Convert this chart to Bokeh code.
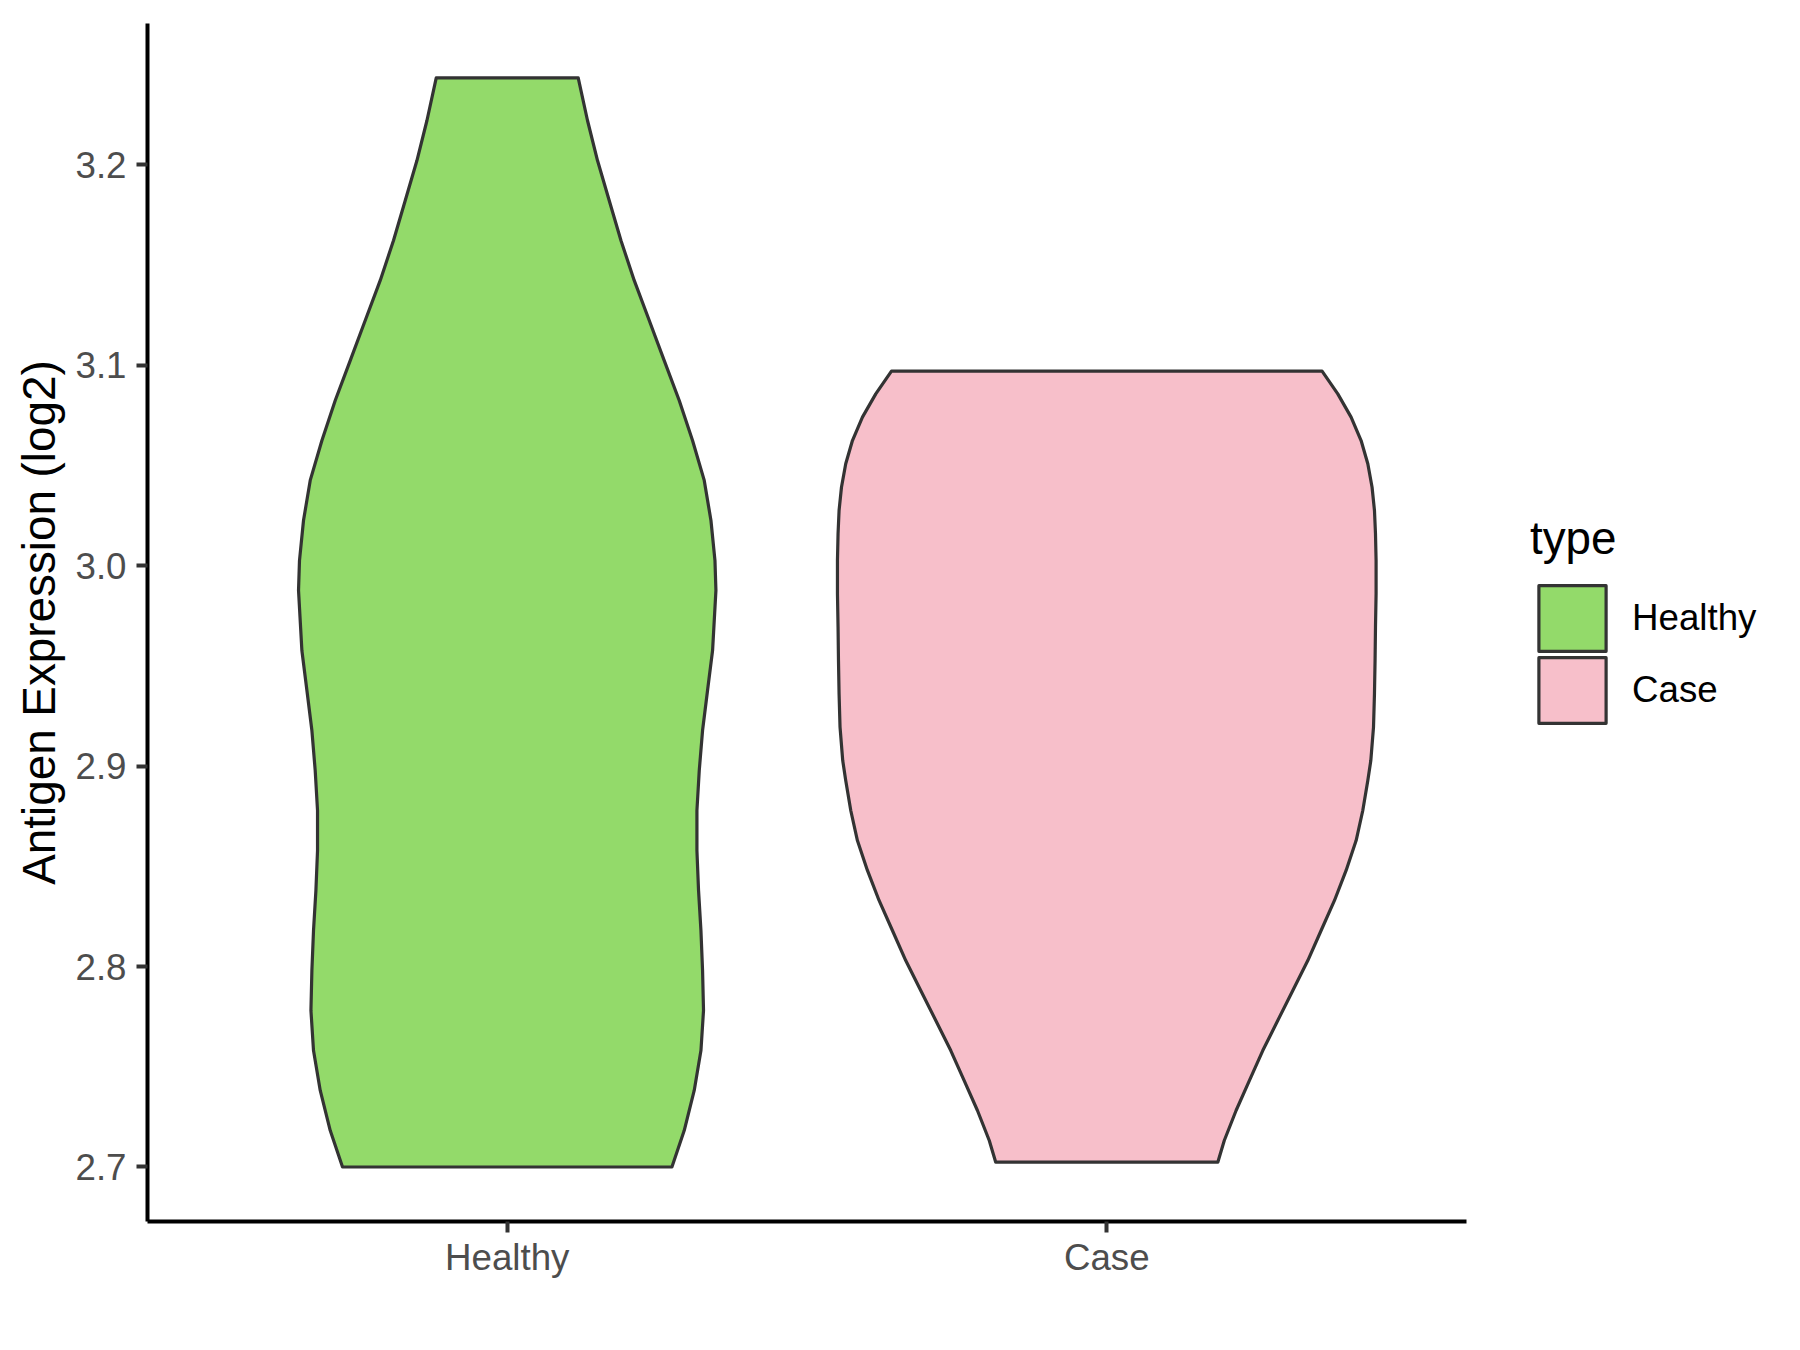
from bokeh.plotting import figure
from bokeh.models import FixedTicker, Legend, LegendItem, PrintfTickFormatter, Range1d
from bokeh.embed import file_html
from bokeh.resources import INLINE

# ---- data ----
categories = ["Healthy", "Case"]
fill_colors = ["#93DA6A", "#F7BFCA"]
y_ticks = [2.7, 2.8, 2.9, 3.0, 3.1, 3.2]

# violin outlines: expression value (log2) and half-width (in category units)
healthy_y = [2.7000, 2.7182, 2.7382, 2.7581, 2.7781, 2.7981, 2.8180, 2.8380,
             2.8579, 2.8779, 2.8979, 2.9178, 2.9378, 2.9577, 2.9877, 3.0026,
             3.0226, 3.0426, 3.0625, 3.0825, 3.1024, 3.1224, 3.1424, 3.1623,
             3.1823, 3.2022, 3.2222, 3.2435]
healthy_hw = [0.2747, 0.2952, 0.3119, 0.3231, 0.3274, 0.3258, 0.3231, 0.3191,
              0.3164, 0.3164, 0.3203, 0.3258, 0.3341, 0.3425, 0.3481, 0.3465,
              0.3398, 0.3286, 0.3091, 0.2869, 0.2619, 0.2369, 0.2118, 0.1897,
              0.1701, 0.1506, 0.1339, 0.1184]

case_y = [2.7024, 2.7132, 2.7282, 2.7432, 2.7581, 2.7731, 2.7881, 2.8030,
          2.8180, 2.8330, 2.8480, 2.8629, 2.8779, 2.8929, 2.9028, 2.9195,
          2.9361, 2.9527, 2.9694, 2.9860, 3.0026, 3.0160, 3.0276, 3.0392,
          3.0509, 3.0625, 3.0742, 3.0858, 3.0971]
case_hw = [0.1852, 0.1960, 0.2157, 0.2380, 0.2602, 0.2852, 0.3103, 0.3353,
           0.3575, 0.3798, 0.3992, 0.4159, 0.4270, 0.4354, 0.4404, 0.4449,
           0.4465, 0.4475, 0.4482, 0.4492, 0.4492, 0.4482, 0.4465, 0.4425,
           0.4354, 0.4242, 0.4075, 0.3853, 0.3591]

FONT = "Liberation Sans"

# layout (pixels)
W, H = 1784, 1334
LEFT, TOP, BOTTOM = 147, 23, 1221
PANEL_RIGHT = 1466           # where the x-axis line ends
X_LO, X_HI = 0.4, 2.6        # discrete axis limits (1 and 2 expanded by 0.6)
x_end = X_LO + (W - LEFT) * (X_HI - X_LO) / (PANEL_RIGHT - LEFT)

p = figure(width=W, height=H, output_backend="svg", toolbar_location=None,
           x_range=Range1d(X_LO, x_end), y_range=Range1d(2.6728, 3.2706))
p.min_border_left = LEFT
p.min_border_right = 0
p.min_border_top = TOP
p.min_border_bottom = H - BOTTOM
p.outline_line_color = None
p.background_fill_color = "white"
p.border_fill_color = "white"
p.xgrid.visible = False
p.ygrid.visible = False

renderers = []
for i, (ys, hws) in enumerate([(healthy_y, healthy_hw), (case_y, case_hw)]):
    c = i + 1
    xs = [c - h for h in hws] + [c + h for h in reversed(hws)]
    yy = list(ys) + list(reversed(ys))
    r = p.patch(xs, yy, fill_color=fill_colors[i], line_color="#333333",
                line_width=3.2, line_join="round")
    renderers.append(r)

# axes
for ax in (p.xaxis[0], p.yaxis[0]):
    ax.axis_line_color = "black"
    ax.axis_line_width = 4
    ax.major_tick_line_color = "#333333"
    ax.major_tick_line_width = 4
    ax.major_tick_in = 0
    ax.major_tick_out = 11
    ax.minor_tick_line_color = None
    ax.major_label_text_font = FONT
    ax.major_label_text_font_size = "36.7px"
    ax.major_label_text_color = "#4D4D4D"

p.xaxis.bounds = (X_LO, X_HI)
p.xaxis.ticker = FixedTicker(ticks=[1, 2])
p.xaxis.major_label_overrides = {1: categories[0], 2: categories[1]}
p.xaxis.major_label_standoff = 4

p.yaxis.ticker = FixedTicker(ticks=y_ticks)
p.yaxis.formatter = PrintfTickFormatter(format="%.1f")
p.yaxis.major_label_standoff = 10
p.yaxis.axis_label = "Antigen Expression (log2)"
p.yaxis.axis_label_text_font = FONT
p.yaxis.axis_label_text_font_size = "45.8px"
p.yaxis.axis_label_text_font_style = "normal"
p.yaxis.axis_label_text_color = "black"
p.yaxis.axis_label_standoff = 7

# legend: Bokeh draws area swatches at 80% of the glyph box;
# one Legend per key so the keys can sit 72 px apart like the reference
GW, GH = 84, 82
LEG_X = 1530 - LEFT
key_bottoms = [659, 731]
for i, (name, r) in enumerate(zip(categories, renderers)):
    lg = Legend(items=[LegendItem(label=name, renderers=[r])],
                location=(LEG_X, BOTTOM - key_bottoms[i]))
    if i == 0:
        lg.title = "type"
        lg.title_text_font = FONT
        lg.title_text_font_size = "45.8px"
        lg.title_text_font_style = "normal"
        lg.title_text_color = "black"
        lg.title_standoff = 12
    lg.label_text_font = FONT
    lg.label_text_font_size = "36.7px"
    lg.label_text_color = "black"
    lg.glyph_width = GW
    lg.glyph_height = GH
    lg.label_height = GH
    lg.label_standoff = 18
    lg.padding = 0
    lg.margin = 0
    lg.border_line_color = None
    lg.background_fill_alpha = 0
    p.add_layout(lg, "center")

open("out.html", "w").write(file_html(p, INLINE))
